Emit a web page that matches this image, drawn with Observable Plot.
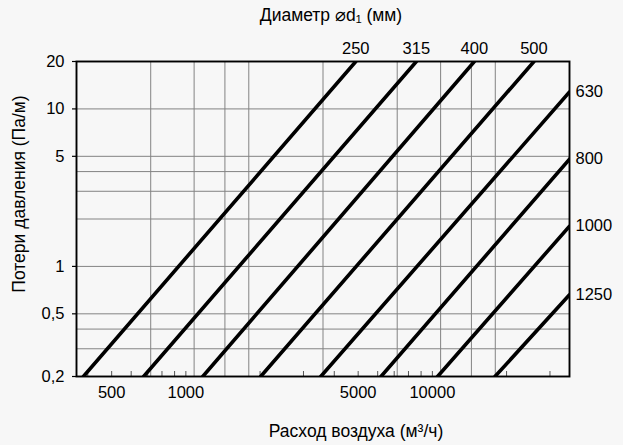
<!DOCTYPE html>
<html>
<head>
<meta charset="utf-8">
<script src="https://cdn.jsdelivr.net/npm/d3@7"></script>
<script src="https://cdn.jsdelivr.net/npm/@observablehq/plot@0.6"></script>
<style>
  html, body { margin: 0; padding: 0; background: #f7f7f7; }
  #chart svg { display: block; }
</style>
</head>
<body>
<div id="chart"></div>
<script>
// Diameters (mm) and the two end points of each pressure-loss line
const diameters = ["250", "315", "400", "500", "630", "800", "1000", "1250"];
const flowStart = [384, 674, 1171, 2012, 3526, 6190, 10500, 17950];   // m³/h
const lossStart = [0.2, 0.2, 0.2, 0.2, 0.2, 0.2, 0.2, 0.2];           // Pa/m
const flowEnd   = [4890, 8610, 14800, 25830, 36000, 36000, 36000, 36000];
const lossEnd   = [20, 20, 20, 20, 12.8, 4.8, 1.8, 0.66];

// Axis ticks and grid
const xTickLabels = [500, 1000, 5000, 10000];
const xMinorTicks = [400, 500, 600, 700, 800, 900, 1000, 2000, 3000, 4000, 5000, 6000, 7000, 8000, 9000, 10000, 20000, 30000];
const xGrid = [720, 1080, 1440, 1800, 3600, 7200, 10800, 14400, 18000];
const yTickLabels = [0.2, 0.5, 1, 5, 10, 20];
const yGrid = [0.3, 0.4, 0.5, 1, 2, 3, 4, 5, 10];

const xDomain = [360, 36000];
const yDomain = [0.2, 20];

const titleTop = "Диаметр ⌀d₁ (мм)";
const titleX = "Расход воздуха (м³/ч)";
const titleY = "Потери давления (Па/м)";

const lineData = diameters.flatMap((d, i) => [
  {d, q: flowStart[i], dp: lossStart[i]},
  {d, q: flowEnd[i], dp: lossEnd[i]}
]);
const topLabels = diameters.map((d, i) => ({d, q: flowEnd[i], dp: lossEnd[i]})).filter(e => e.dp >= 20);
const rightLabels = diameters.map((d, i) => ({d, q: flowEnd[i], dp: lossEnd[i]})).filter(e => e.dp < 20);

const font = "'Liberation Sans', Arial, sans-serif";
const tickFont = 16.5;
const titleFont = 17.5;

const chart = Plot.plot({
  width: 623,
  height: 445,
  marginTop: 61,
  marginRight: 54,
  marginBottom: 69,
  marginLeft: 76,
  style: {background: "#f7f7f7", fontFamily: font, fontSize: "16px", color: "#000"},
  x: {type: "log", domain: xDomain, label: null},
  y: {type: "log", domain: yDomain, label: null},
  marks: [
    Plot.ruleX(xGrid, {stroke: "#838383", strokeWidth: 1}),
    Plot.ruleY(yGrid, {stroke: "#838383", strokeWidth: 1}),
    Plot.axisX(xMinorTicks, {tickSize: -5, tickFormat: () => "", stroke: "#555", strokeWidth: 1, label: null}),
    Plot.axisY(yTickLabels, {tickSize: 4, tickFormat: () => "", stroke: "#000", strokeWidth: 1.2, label: null}),
    Plot.text(xTickLabels, {x: d => d, text: d => String(d), frameAnchor: "bottom", dy: 10, lineAnchor: "top", fontSize: tickFont, fill: "#000"}),
    Plot.text(yTickLabels, {y: d => d, text: d => String(d).replace(".", ","), frameAnchor: "left", dx: -12, textAnchor: "end", lineAnchor: "middle", fontSize: tickFont, fill: "#000"}),
    Plot.frame({stroke: "#000", strokeWidth: 1.9}),
    Plot.line(lineData, {x: "q", y: "dp", z: "d", stroke: "#000", strokeWidth: 3.6, clip: true}),
    Plot.text(topLabels, {x: "q", y: "dp", text: "d", dy: -8, lineAnchor: "bottom", fontSize: tickFont, fill: "#000"}),
    Plot.text(rightLabels, {x: "q", y: "dp", text: "d", dx: 6, textAnchor: "start", lineAnchor: "middle", fontSize: tickFont, fill: "#000"}),
    Plot.text([titleTop], {text: d => d, frameAnchor: "top", dx: 8, dy: -41, textAnchor: "middle", lineAnchor: "bottom", fontSize: titleFont, fill: "#000"}),
    Plot.text([titleX], {text: d => d, frameAnchor: "bottom", dx: 33, dy: 60, textAnchor: "middle", lineAnchor: "bottom", fontSize: titleFont, fill: "#000"}),
    Plot.text([titleY], {text: d => d, frameAnchor: "left", dx: -57, dy: -25, rotate: -90, textAnchor: "middle", lineAnchor: "middle", fontSize: titleFont, fill: "#000"})
  ]
});
document.getElementById("chart").appendChild(chart);
</script>
</body>
</html>
